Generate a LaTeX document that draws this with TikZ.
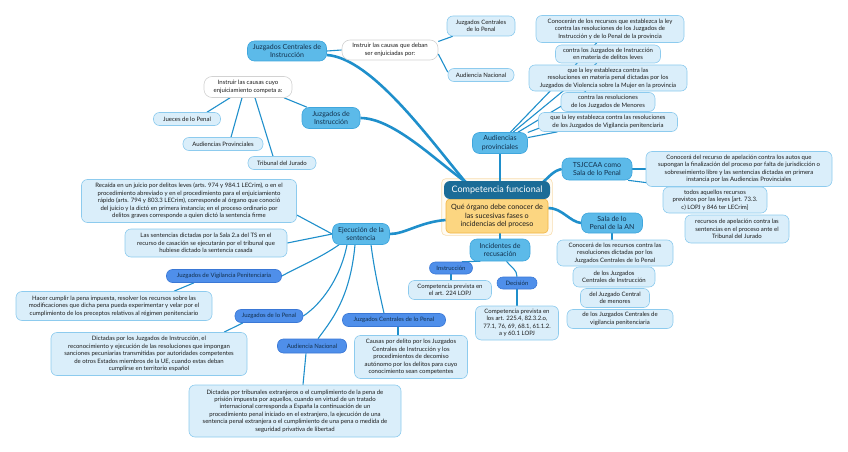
\documentclass[tikz,border=0pt]{standalone}
\usepackage{fontspec}
\setmainfont{Lato}
\usetikzlibrary{backgrounds,fit}

\definecolor{hubblue}{HTML}{1B6C97}
\definecolor{linkblue}{HTML}{1F8FCB}
\definecolor{branchfill}{HTML}{5CBAE9}
\definecolor{branchedge}{HTML}{3FA6DD}
\definecolor{leaffill}{HTML}{DAEEFA}
\definecolor{leafedge}{HTML}{8DCBEE}
\definecolor{tagfill}{HTML}{4F8FEA}
\definecolor{tagedge}{HTML}{3A78D6}
\definecolor{subfill}{HTML}{FCD681}
\definecolor{subedge}{HTML}{F2B544}
\definecolor{frameedge}{HTML}{F7DDAF}
\definecolor{framefill}{HTML}{FFFBF3}
\definecolor{askedge}{HTML}{D2D2D2}
\definecolor{inkblue}{HTML}{13304C}
\definecolor{inkdark}{HTML}{1C1C1C}

\tikzset{
  wh/.style 2 args={minimum width=#1pt, minimum height=#2pt},
  card/.style={align=center, inner xsep=3pt, inner ysep=1.5pt, line width=0.6pt},
  hub/.style={card, fill=hubblue, text=white, rounded corners=6pt, wh={106}{18}, font=\fontsize{9}{10}\selectfont},
  sub/.style={card, fill=subfill, draw=subedge, rounded corners=4pt, text=inkdark, font=\fontsize{7.2}{8.4}\selectfont},
  branch/.style={card, fill=branchfill, draw=branchedge, rounded corners=7pt, text=inkblue, font=\fontsize{7}{8.4}\selectfont},
  leaf/.style={card, fill=leaffill, draw=leafedge, rounded corners=6pt, text=inkdark, font=\fontsize{6}{7.4}\selectfont},
  ask/.style={card, fill=white, draw=askedge, rounded corners=8pt, text=inkdark, font=\fontsize{6}{7.4}\selectfont},
  tag/.style={card, fill=tagfill, draw=tagedge, rounded corners=6pt, text=inkblue, font=\fontsize{6}{7.4}\selectfont},
  frame/.style={draw=frameedge, fill=framefill, rounded corners=4pt, line width=0.6pt, inner sep=2pt},
  trunk/.style={draw=linkblue, line width=2.6pt},
  twig/.style={draw=linkblue, line width=1.1pt},
}

\begin{document}
\begin{tikzpicture}[x=1pt, y=-1pt]
	\useasboundingbox (0,0) rectangle (848,452);

	% --- centre ---
	\node[sub, wh={102}{34}] (sub) at (497,216) {Qué órgano debe conocer de\\las sucesivas fases o\\incidencias del proceso};
	\node[hub] (hub) at (497,190) {Competencia funcional};

	% --- main branches ---
	\node[branch, wh={79}{20}] (jci) at (287,51) {Juzgados Centrales de\\Instrucción};
	\node[branch, wh={58}{21}] (jdi) at (331,118) {Juzgados de\\Instrucción};
	\node[branch, wh={55}{21}] (aud) at (500,143) {Audiencias\\provinciales};
	\node[branch, wh={70}{22}] (tsj) at (597,169) {TSJCCAA como\\Sala de lo Penal};
	\node[branch, wh={61}{20}] (sal) at (612,223) {Sala de lo\\Penal de la AN};
	\node[branch, wh={60}{22}] (inc) at (500,250) {Incidentes de\\recusación};
	\node[branch, wh={57}{21}] (eje) at (361,234) {Ejecución de la\\sentencia};

	% --- Juzgados Centrales de Instrucción ---
	\node[ask, wh={96}{20}] (ideban) at (390,50) {Instruir las causas que deban\\ser enjuiciadas por:};
	\node[leaf, wh={68}{20}] (jcp) at (481,26) {Juzgados Centrales\\de lo Penal};
	\node[leaf, wh={66}{13}] (an) at (481,75) {Audiencia Nacional};

	% --- Juzgados de Instrucción ---
	\node[ask, wh={88}{21}] (icuyo) at (248,87) {Instruir las causas cuyo\\enjuiciamiento competa a:};
	\node[leaf, wh={67}{13}] (jlp) at (187,119) {Jueces de lo Penal};
	\node[leaf, wh={80}{13}] (apv) at (223,144) {Audiencias Provinciales};
	\node[leaf, wh={68}{13}] (trib) at (282,163) {Tribunal del Jurado};

	% --- Audiencias provinciales ---
	\node[leaf, wh={148}{27}] (ca1) at (610,29) {Conocerán de los recursos que establezca la ley\\contra las resoluciones de los Juzgados de\\Instrucción y de lo Penal de la provincia};
	\node[leaf, wh={105}{18}] (ca2) at (608,54) {contra los Juzgados de Instrucción\\en materia de delitos leves};
	\node[leaf, wh={158}{26}] (ca3) at (608,78) {que la ley establezca contra las\\resoluciones en materia penal dictadas por los\\Juzgados de Violencia sobre la Mujer en la provincia};
	\node[leaf, wh={94}{19}] (ca4) at (608,102) {contra las resoluciones\\de los Juzgados de Menores};
	\node[leaf, wh={139}{19}] (ca5) at (608,122) {que la ley establezca contra las resoluciones\\de los Juzgados de Vigilancia penitenciaria};

	% --- TSJCCAA ---
	\node[leaf, wh={186}{35}] (tcon) at (739,169) {Conocerá del recurso de apelación contra los autos que\\supongan la finalización del proceso por falta de jurisdicción o\\sobreseimiento libre y las sentencias dictadas en primera\\instancia por las Audiencias Provinciales};
	\node[leaf, wh={104}{26}] (todos) at (715,200) {todos aquellos recursos\\previstos por las leyes [art. 73.3.\\c) LOPJ y 846 ter LECrim]};
	\node[leaf, wh={104}{28}] (trec) at (737,229) {recursos de apelación contra las\\sentencias en el proceso ante el\\Tribunal del Jurado};

	% --- Sala de lo Penal de la AN ---
	\node[leaf, wh={116}{26}] (s1) at (615,253) {Conocerá de los recursos contra las\\resoluciones dictadas por los\\Juzgados Centrales de lo Penal};
	\node[leaf, wh={82}{20}] (s2) at (614,277) {de los Juzgados\\Centrales de Instrucción};
	\node[leaf, wh={69}{19}] (s3) at (615,298) {del Juzgado Central\\de menores};
	\node[leaf, wh={106}{19}] (s4) at (620,319) {de los Juzgados Centrales de\\vigilancia penitenciaria};

	% --- Incidentes de recusación ---
	\node[tag, wh={43}{12}] (instr) at (451,268) {Instrucción};
	\node[tag, wh={40}{12}] (dec) at (517,283) {Decisión};
	\node[leaf, wh={83}{19}] (c224) at (450,290) {Competencia prevista en\\el art. 224 LOPJ};
	\node[leaf, wh={83}{34}] (c225) at (517,323) {Competencia prevista en\\los art. 225.4, 82.3.2.o,\\77.1, 76, 69, 68.1, 61.1.2.\\a y 60.1 LOPJ};

	% --- Ejecución de la sentencia ---
	\node[leaf, wh={215}{43}] (rec) at (189,201) {Recaída en un juicio por delitos leves (arts. 974 y 984.1 LECrim), o en el\\procedimiento abreviado y en el procedimiento para el enjuiciamiento\\rápido (arts. 794 y 803.3 LECrim), corresponde al órgano que conoció\\del juicio y la dictó en primera instancia; en el proceso ordinario por\\delitos graves corresponde a quien dictó la sentencia firme};
	\node[leaf, wh={162}{28}] (lst) at (206,243) {Las sentencias dictadas por la Sala 2.a del TS en el\\recurso de casación se ejecutarán por el tribunal que\\hubiese dictado la sentencia casada};
	\node[tag, wh={115}{13}] (jvp) at (224,276) {Juzgados de Vigilancia Penitenciaria};
	\node[leaf, wh={196}{29}] (hac) at (114,306) {Hacer cumplir la pena impuesta, resolver los recursos sobre las\\modificaciones que dicha pena pueda experimentar y velar por el\\cumplimiento de los preceptos relativos al régimen penitenciario};
	\node[tag, wh={68}{13}] (jdp) at (269,316) {Juzgados de lo Penal};
	\node[leaf, wh={196}{43}] (dic) at (149,354) {Dictadas por los Juzgados de Instrucción, el\\reconocimiento y ejecución de las resoluciones que impongan\\sanciones pecuniarias transmitidas por autoridades competentes\\de otros Estados miembros de la UE, cuando estas deban\\cumplirse en territorio español};
	\node[tag, wh={69}{14}] (anp) at (312,346) {Audiencia Nacional};
	\node[leaf, wh={212}{52}] (dext) at (295,411) {Dictadas por tribunales extranjeros o el cumplimiento de la pena de\\prisión impuesta por aquellos, cuando en virtud de un tratado\\internacional corresponda a España la continuación de un\\procedimiento penal iniciado en el extranjero, la ejecución de una\\sentencia penal extranjera o el cumplimiento de una pena o medida de\\seguridad privativa de libertad};
	\node[tag, wh={103}{13}] (jcpp) at (394,320) {Juzgados Centrales de lo Penal};
	\node[leaf, wh={113}{43}] (cau) at (411,357) {Causas por delito por los Juzgados\\Centrales de Instrucción y los\\procedimientos de decomiso\\autónomo por los delitos para cuyo\\conocimiento sean competentes};

	\begin{scope}[on background layer]
		\node[frame, fit=(hub)(sub)] (hubframe) {};

		% --- trunks from the centre ---
		\draw[trunk] ([yshift=-4pt]jci.east) .. controls (372,58) and (430,140) .. ([xshift=24pt,yshift=-4pt]hub.north west);
		\draw[trunk] (jdi.east) .. controls (395,118) and (440,165) .. ([xshift=26pt,yshift=-4pt]hub.north west);
		\draw[trunk] (aud.south) -- (aud.south |- hub.north);
		\draw[trunk] ([xshift=-10pt,yshift=-4pt]hub.north east) .. controls (550,176) and (553,171) .. (tsj.west);
		\draw[trunk] ([yshift=8pt]sub.east) .. controls (562,208) and (570,222) .. (sal.west);
		\draw[trunk] (inc.north) -- (inc.north |- sub.south);
		\draw[trunk] ([yshift=-4pt]sub.west) .. controls (420,222) and (405,234) .. (eje.east);

		% --- twigs ---
		\draw[twig] (jci.east) -- (ideban.west);
		\draw[twig] (ideban.10) -- (jcp.200);
		\draw[twig] ([yshift=-4pt]ideban.east) -- (an.175);
		\draw[twig] ([xshift=-24pt]jdi.north) -- ([xshift=36pt]icuyo.south);
		\draw[twig] ([xshift=-18pt]icuyo.south) -- ([xshift=20pt]jlp.north);
		\draw[twig] ([xshift=-6pt]icuyo.south) -- ([xshift=8pt]apv.north);
		\draw[twig] ([xshift=7pt]icuyo.south) -- ([xshift=-9pt]trib.north);
		\foreach \n in {ca1,ca2,ca3,ca4,ca5}
			\draw[twig] (aud) -- (\n);
		\draw[twig] (tsj.east) -- (tcon.west);
		\draw[twig] (tsj.-20) -- (todos.160);
		\draw[twig] (sal.south) -- (sal.south |- s1.north);
		\draw[twig] (inc.-150) -- (instr.30);
		\draw[twig] (inc.-60) .. controls (512,268) and (517,270) .. (dec.north);
		\draw[twig] (instr.south) -- (instr.south |- c224.north);
		\draw[twig] (dec.south) -- (dec.south |- c225.north);
		\draw[twig] (eje.west) -- ([yshift=-14pt]rec.east);
		\draw[twig] (eje.west) -- (lst.east);
		\draw[twig] ([xshift=-22pt]eje.south) .. controls (320,258) and (300,266) .. (jvp.east);
		\draw[twig] ([xshift=-14pt]eje.south) .. controls (340,280) and (320,305) .. (jdp.east);
		\draw[twig] ([xshift=-6pt]eje.south) .. controls (350,300) and (330,322) .. ([xshift=6pt]anp.north);
		\draw[twig] ([xshift=10pt]eje.south) .. controls (375,275) and (380,295) .. ([xshift=-10pt]jcpp.north);
		\draw[twig] ([xshift=-30pt]jvp.south) -- ([xshift=60pt]hac.north);
		\draw[twig] ([xshift=-26pt]jdp.south) -- ([xshift=75pt]dic.north);
		\draw[twig] ([xshift=-6pt]anp.south) -- ([xshift=8pt]dext.north);
		\draw[twig] ([xshift=4pt]jcpp.south) -- ([xshift=4pt]jcpp.south |- cau.north);
	\end{scope}
\end{tikzpicture}
\end{document}
